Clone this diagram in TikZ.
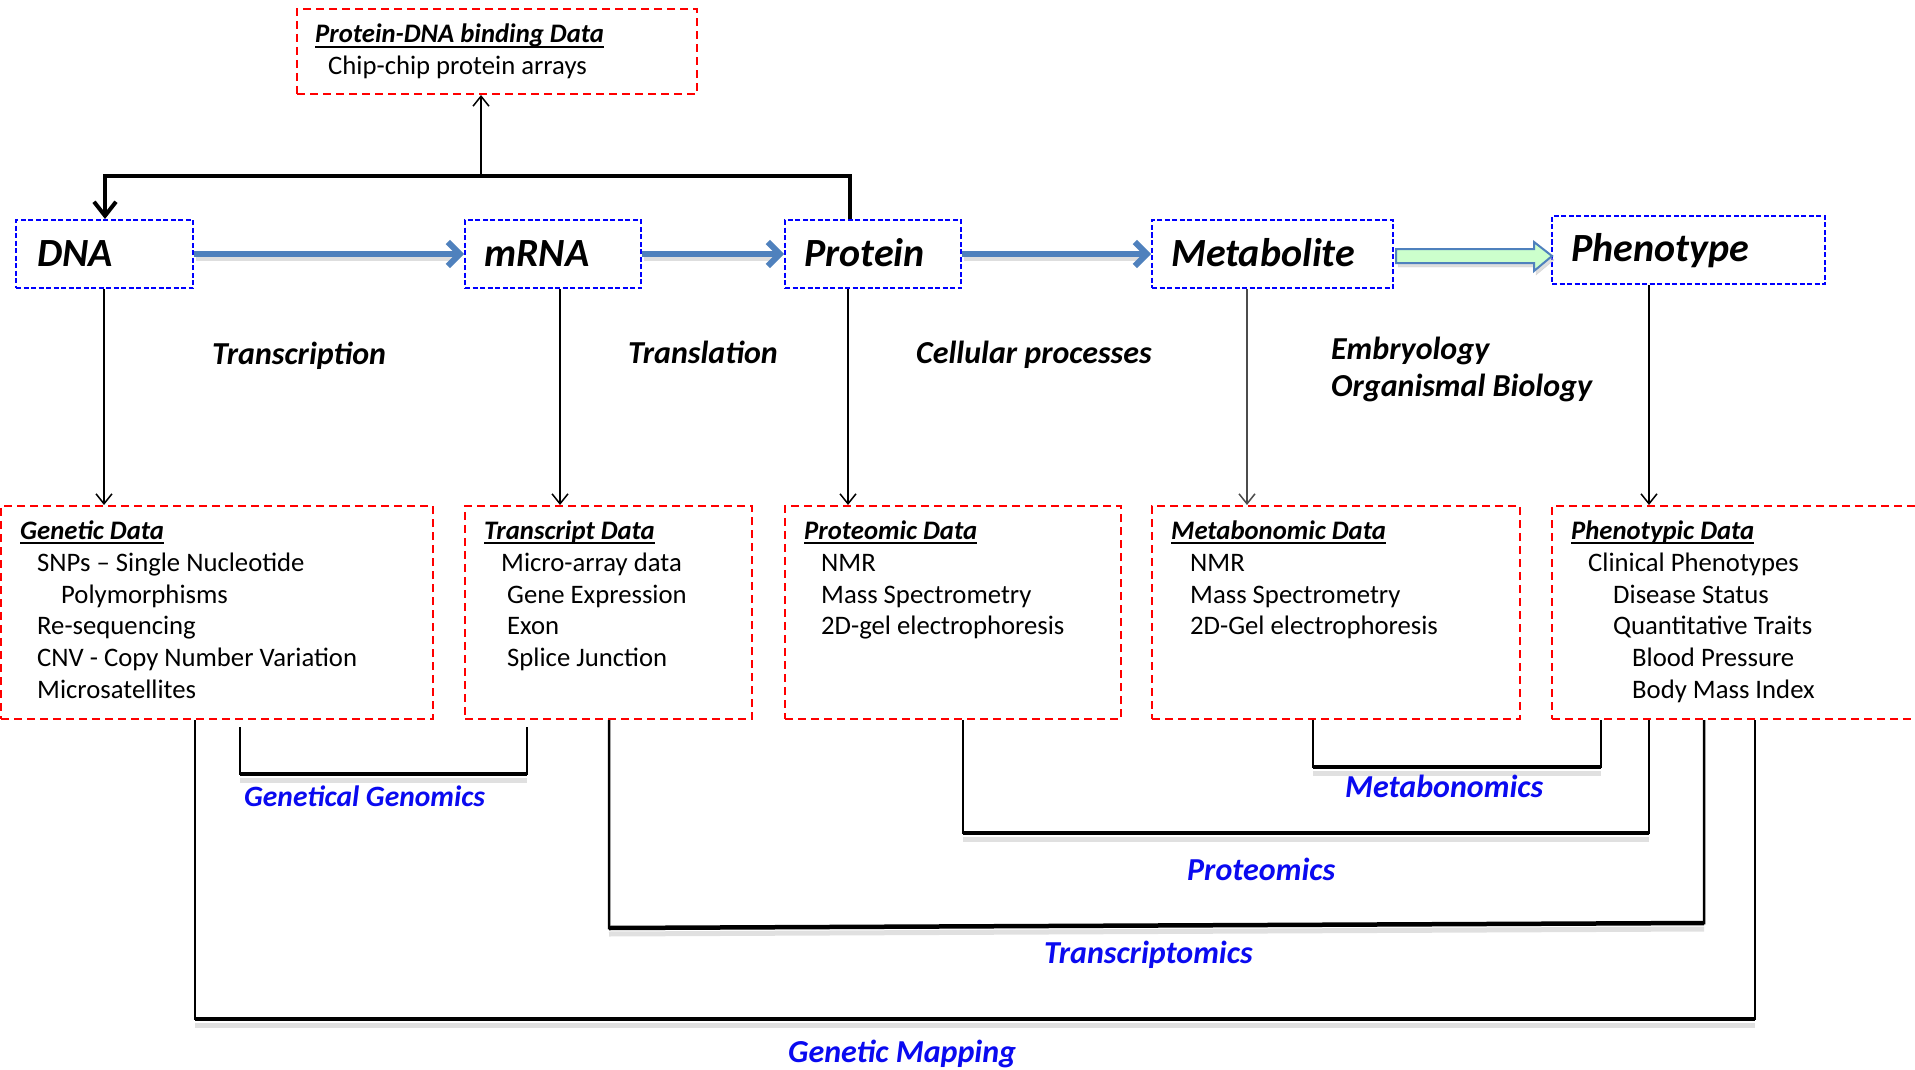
\documentclass[tikz,border=0pt]{standalone}
\usepackage{fontspec}
\setmainfont{Carlito}
\usetikzlibrary{arrows.meta}
\definecolor{arrowblue}{HTML}{4F81BD}
\definecolor{lblue}{HTML}{0A0AF0}
\definecolor{lgreen}{HTML}{CCFFCC}
\tikzset{
  bluebox/.style={draw=blue, line width=2pt, dash pattern=on 5pt off 2.5pt, anchor=north west, inner sep=0pt},
  redbox/.style={draw=red, line width=2pt, dash pattern=on 8pt off 5pt, anchor=north west, inner sep=0pt},
  bigtxt/.style={font=\fontsize{40}{44}\selectfont\bfseries\itshape, anchor=base west, inner sep=0pt},
  body/.style={font=\fontsize{26.7}{32}\selectfont, anchor=base west, inner sep=0pt},
  head/.style={font=\fontsize{26.7}{32}\selectfont\bfseries\itshape, anchor=base west, inner sep=0pt},
  proc/.style={font=\fontsize{32}{36}\selectfont\bfseries\itshape, anchor=base west, inner sep=0pt},
  omics/.style={proc, text=lblue},
  ul/.style={line width=2pt},
  downarr/.style={line width=1.5pt, -{Straight Barb[length=10pt,width=16pt]}},
  flow/.style={draw=arrowblue, line width=6pt, -{Straight Barb[length=12pt,width=24pt]}},
  flowshadow/.style={draw=black!25, opacity=0.5, line width=6pt},
  topbr/.style={line width=4pt, line join=miter, -{Straight Barb[length=14pt,width=22pt]}},
  bv/.style={line width=2.5pt},
  bh/.style={line width=4.5pt},
  bshadow/.style={draw=black!20, opacity=0.6, line width=5pt},
}
\newcommand\hdr[3]{\node[head] (#1) at (#2) {#3};
  \draw[ul] ([yshift=-4pt]#1.base west) -- ([yshift=-4pt]#1.base east);}
\begin{document}
\begin{tikzpicture}[x=1pt,y=-1pt]
\useasboundingbox (0,0) rectangle (1915,1070);
\clip (0,0) rectangle (1915,1070);
\fill[white] (0,0) rectangle (1915,1070);

% ---------- top box ----------
\node[redbox, minimum width=400pt, minimum height=85pt] (pdna) at (296,8) {};
\hdr{pdnah}{315,43}{Protein-DNA binding Data}
\node[body] (pdna1) at (328,75) {Chip-chip protein arrays};

% ---------- blue boxes ----------
\node[bluebox, minimum width=177pt, minimum height=68pt] (dna) at (15,219) {};
\node[bluebox, minimum width=176pt, minimum height=68pt] (mrna) at (464,219) {};
\node[bluebox, minimum width=176pt, minimum height=68pt] (prot) at (784,219) {};
\node[bluebox, minimum width=241pt, minimum height=68pt] (metab) at (1151,219) {};
\node[bluebox, minimum width=273pt, minimum height=68pt] (pheno) at (1551,215) {};
\node[bigtxt] (dnat) at (37,266) {DNA};
\node[bigtxt] (mrnat) at (484,266) {mRNA};
\node[bigtxt] (prott) at (804,266) {Protein};
\node[bigtxt] (metabt) at (1171,266) {Metabolite};
\node[bigtxt] (phenot) at (1571,261) {Phenotype};

% ---------- process labels ----------
\node[proc] (l1) at (212,364) {Transcription};
\node[proc] (l2) at (628,363) {Translation};
\node[proc] (l3) at (916,363) {Cellular processes};
\node[proc] (l4) at (1331,359) {Embryology};
\node[proc] (l5) at (1331,396) {Organismal Biology};

% ---------- red data boxes ----------
\node[redbox, minimum width=432pt, minimum height=213pt] (genbox) at (0,505) {};
\node[redbox, minimum width=287pt, minimum height=213pt] (trbox) at (464,505) {};
\node[redbox, minimum width=336pt, minimum height=213pt] (prbox) at (784,505) {};
\node[redbox, minimum width=368pt, minimum height=213pt] (mbbox) at (1151,505) {};
\node[redbox, minimum width=400pt, minimum height=213pt] (phbox) at (1551,505) {};

\hdr{gh}{20,539}{Genetic Data}
\node[body] (g1) at (37,571) {SNPs -- Single Nucleotide};
\node[body] (g2) at (61,603) {Polymorphisms};
\node[body] (g3) at (37,634) {Re-sequencing};
\node[body] (g4) at (37,666) {CNV - Copy Number Variation};
\node[body] (g5) at (37,698) {Microsatellites};

\hdr{th}{484,539}{Transcript Data}
\node[body] (t1) at (501,571) {Micro-array data};
\node[body] (t2) at (507,603) {Gene Expression};
\node[body] (t3) at (507,634) {Exon};
\node[body] (t4) at (507,666) {Splice Junction};

\hdr{ph}{804,539}{Proteomic Data}
\node[body] (p1) at (821,571) {NMR};
\node[body] (p2) at (821,603) {Mass Spectrometry};
\node[body] (p3) at (821,634) {2D-gel electrophoresis};

\hdr{mh}{1171,539}{Metabonomic Data}
\node[body] (m1) at (1190,571) {NMR};
\node[body] (m2) at (1190,603) {Mass Spectrometry};
\node[body] (m3) at (1190,634) {2D-Gel electrophoresis};

\hdr{fh}{1571,539}{Phenotypic Data}
\node[body] (f1) at (1588,571) {Clinical Phenotypes};
\node[body] (f2) at (1613,603) {Disease Status};
\node[body] (f3) at (1613,634) {Quantitative Traits};
\node[body] (f4) at (1632,666) {Blood Pressure};
\node[body] (f5) at (1632,698) {Body Mass Index};

% ---------- top bracket ----------
\coordinate (tbL) at (105,176);
\coordinate (tbR) at (850,176);
\coordinate (tbM) at (481,176);
\draw[topbr] (prot.north -| tbR) -- (tbR) -- (tbL) -- (dna.north -| tbL);
\draw[downarr] (tbM) -- (pdna.south -| tbM);

% ---------- flow arrows ----------
\draw[flowshadow] ([xshift=2pt,yshift=-4pt]dna.east) -- ([xshift=-8pt,yshift=-4pt]mrna.west);
\draw[flowshadow] ([xshift=2pt,yshift=-4pt]mrna.east) -- ([xshift=-8pt,yshift=-4pt]prot.west);
\draw[flowshadow] ([xshift=2pt,yshift=-4pt]prot.east) -- ([xshift=-8pt,yshift=-4pt]metab.west);
\draw[flow] (dna.east) -- (mrna.west);
\draw[flow] (mrna.east) -- (prot.west);
\draw[flow] (prot.east) -- (metab.west);
\draw[draw=black!25, fill=black!25, opacity=0.5] (metab.east) ++(4,-1) -- ++(138,0) -- ++(0,-7) -- ++(18,14) -- ++(-18,15) -- ++(0,-8) -- ++(-138,0) -- cycle;
\draw[draw=arrowblue, fill=lgreen, line width=2pt, line join=miter] (metab.east) ++(2,-5) -- ++(138,0) -- ++(0,-7) -- ++(18,14) -- ++(-18,15) -- ++(0,-8) -- ++(-138,0) -- cycle;

% ---------- down arrows ----------
\coordinate (xd) at (104,0);
\coordinate (xm) at (560,0);
\coordinate (xp) at (848,0);
\coordinate (xb) at (1247,0);
\coordinate (xf) at (1649,0);
\draw[downarr] (dna.south -| xd) -- (genbox.north -| xd);
\draw[downarr] (mrna.south -| xm) -- (trbox.north -| xm);
\draw[downarr] (prot.south -| xp) -- (prbox.north -| xp);
\draw[downarr, draw=black!70] (metab.south -| xb) -- (mbbox.north -| xb);
\draw[downarr] (pheno.south -| xf) -- (phbox.north -| xf);

% ---------- bottom brackets ----------
\coordinate (ggL) at (240,774); \coordinate (ggR) at (527,774);
\coordinate (mbL) at (1313,767); \coordinate (mbR) at (1601,767);
\coordinate (prL) at (963,833); \coordinate (prR) at (1649,833);
\coordinate (trL) at (609,928); \coordinate (trR) at (1704,923);
\coordinate (gmL) at (195,1019); \coordinate (gmR) at (1755,1019);

\foreach \a/\b in {ggL/ggR, mbL/mbR, prL/prR, trL/trR, gmL/gmR}
  \draw[bshadow] ([yshift=-6pt]\a) -- ([yshift=-6pt]\b);

\draw[bv] ([yshift=-7pt]genbox.south -| ggL) -- (ggL) -- (ggR) -- ([yshift=-7pt]genbox.south -| ggR);
\draw[bh] (ggL) -- (ggR);
\draw[bv] (mbbox.south -| mbL) -- (mbL) -- (mbR) -- (phbox.south -| mbR);
\draw[bh] (mbL) -- (mbR);
\draw[bv] (prbox.south -| prL) -- (prL) -- (prR) -- (phbox.south -| prR);
\draw[bh] (prL) -- (prR);
\draw[bv] (trbox.south -| trL) -- (trL) -- (trR) -- (phbox.south -| trR);
\draw[bh] (trL) -- (trR);
\draw[bv] (genbox.south -| gmL) -- (gmL) -- (gmR) -- (phbox.south -| gmR);
\draw[bh] (gmL) -- (gmR);

\node[omics, font=\fontsize{29.5}{34}\selectfont\bfseries\itshape] (o1) at (244,806) {Genetical Genomics};
\node[omics] (o2) at (1345,797) {Metabonomics};
\node[omics] (o3) at (1187,880) {Proteomics};
\node[omics] (o4) at (1044,963) {Transcriptomics};
\node[omics] (o5) at (788,1062) {Genetic Mapping};
\end{tikzpicture}
\end{document}
